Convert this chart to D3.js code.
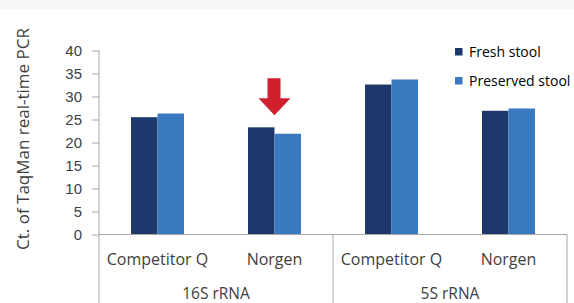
<!DOCTYPE html>
<html>
<head>
<meta charset="utf-8">
<script src="https://cdn.jsdelivr.net/npm/d3@7"></script>
<style>
  body { margin: 0; background: #fff; }
  svg { display: block; font-family: "Open Sans", "Noto Sans", sans-serif; }
</style>
</head>
<body>
<svg width="574" height="303"></svg>
<script>
// data
var groups = ["16S rRNA", "5S rRNA"];
var categories = ["Competitor Q", "Norgen", "Competitor Q", "Norgen"];
var series = ["Fresh stool", "Preserved stool"];
var fresh = [25.5, 23.3, 32.6, 26.9];
var preserved = [26.3, 21.9, 33.7, 27.4];
var yTicks = [0, 5, 10, 15, 20, 25, 30, 35, 40];
var highlight = 1; // arrow over Norgen 16S

var colors = ["#1f386b", "#3a78c0"];
var textColor = "#404040";
var lineColor = "#a6a6a6";

var svg = d3.select("svg");
var margin = {left: 99, right: 7, top: 50.5, bottom: 68.5};
var width = +svg.attr("width") - margin.left - margin.right;
var height = +svg.attr("height") - margin.top - margin.bottom;

// faint grey strip at the very top
svg.append("rect")
    .attr("x", 0).attr("y", 0)
    .attr("width", 574).attr("height", 9)
    .attr("fill", "#f6f6f6");

var g = svg.append("g")
    .attr("transform", "translate(" + margin.left + "," + margin.top + ")");

var x0 = d3.scaleBand()
    .domain(d3.range(categories.length))
    .range([0, width])
    .paddingInner(0.547)
    .paddingOuter(0.2735);

var x1 = d3.scaleBand()
    .domain([0, 1])
    .range([0, x0.bandwidth()]);

var y = d3.scaleLinear()
    .domain([0, 40])
    .range([height, 0]);

// y axis
var yAxis = g.append("g")
    .call(d3.axisLeft(y).tickValues(yTicks).tickSize(7).tickPadding(10));
yAxis.select(".domain").remove();
yAxis.selectAll(".tick line").attr("stroke", lineColor);
yAxis.selectAll(".tick text")
    .attr("fill", textColor)
    .style("font-size", "15px");

g.append("line")
    .attr("x1", 0).attr("x2", 0)
    .attr("y1", 0).attr("y2", 303 - margin.top)
    .attr("stroke", lineColor);

// bars
var vals = [fresh, preserved];
var cat = g.selectAll(".cat")
    .data(categories)
    .enter().append("g")
    .attr("class", "cat")
    .attr("transform", function(d, i) { return "translate(" + x0(i) + ",0)"; });

cat.selectAll("rect")
    .data(function(d, i) { return [0, 1].map(function(s) { return {s: s, v: vals[s][i]}; }); })
    .enter().append("rect")
    .attr("x", function(d) { return x1(d.s); })
    .attr("y", function(d) { return y(d.v); })
    .attr("width", x1.bandwidth())
    .attr("height", function(d) { return height - y(d.v); })
    .attr("fill", function(d) { return colors[d.s]; });

// baseline and group dividers
g.append("line")
    .attr("x1", 0).attr("x2", width)
    .attr("y1", height).attr("y2", height)
    .attr("stroke", lineColor);

var step = x0.step();
[2, 4].forEach(function(k) {
  g.append("line")
      .attr("x1", k * step).attr("x2", k * step)
      .attr("y1", height).attr("y2", 303 - margin.top)
      .attr("stroke", lineColor);
});

// category labels
g.selectAll(".catLabel")
    .data(categories)
    .enter().append("text")
    .attr("x", function(d, i) { return x0(i) + x0.bandwidth() / 2; })
    .attr("y", height + 30)
    .attr("text-anchor", "middle")
    .attr("fill", textColor)
    .style("font-size", "16px")
    .text(function(d) { return d; });

g.selectAll(".grpLabel")
    .data(groups)
    .enter().append("text")
    .attr("x", function(d, i) { return (i * 2 + 1) * step; })
    .attr("y", height + 64)
    .attr("text-anchor", "middle")
    .attr("fill", textColor)
    .style("font-size", "15.5px")
    .text(function(d) { return d; });

// y title
svg.append("text")
    .attr("transform", "translate(29,139) rotate(-90)")
    .attr("text-anchor", "middle")
    .attr("fill", textColor)
    .style("font-size", "17px")
    .text("Ct. of TaqMan real-time PCR");

// red arrow above the highlighted bar pair
var ax = x0(highlight) + x1(1) + margin.left;
var tipY = margin.top + y(d3.max([fresh[highlight], preserved[highlight]])) - 12;
svg.append("path")
    .attr("d", "M" + (ax - 7) + "," + (tipY - 37) +
               "L" + (ax + 6) + "," + (tipY - 37) +
               "L" + (ax + 6) + "," + (tipY - 17) +
               "L" + (ax + 16) + "," + (tipY - 17) +
               "L" + (ax) + "," + tipY +
               "L" + (ax - 16) + "," + (tipY - 17) +
               "L" + (ax - 7) + "," + (tipY - 17) + "Z")
    .attr("fill", "#d0202e");

// legend
var legend = svg.append("g")
    .attr("transform", "translate(455,48)");
legend.selectAll("rect")
    .data(series)
    .enter().append("rect")
    .attr("x", 0)
    .attr("y", function(d, i) { return i * 29; })
    .attr("width", 7.5).attr("height", 7.5)
    .attr("fill", function(d, i) { return colors[i]; });
legend.selectAll("text")
    .data(series)
    .enter().append("text")
    .attr("x", 14)
    .attr("y", function(d, i) { return i * 29 + 9; })
    .attr("fill", "#000")
    .style("font-size", "14px")
    .text(function(d) { return d; });
</script>
</body>
</html>
